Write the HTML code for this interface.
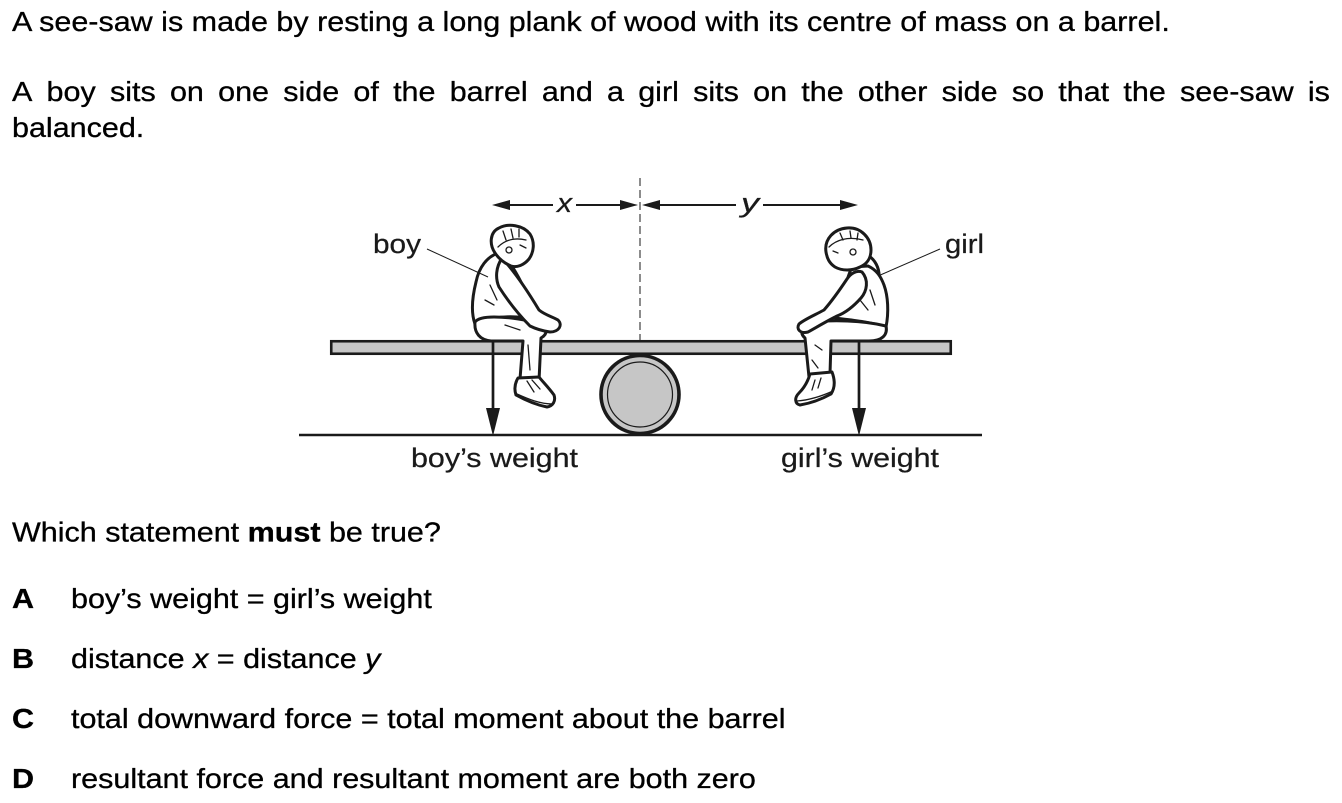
<!DOCTYPE html>
<html>
<head>
<meta charset="utf-8">
<style>
  html, body { margin: 0; padding: 0; background: #fff; }
  svg { display: block; }
</style>
</head>
<body>
<svg width="1342" height="803" viewBox="0 0 1342 803" xmlns="http://www.w3.org/2000/svg">
  <rect width="1342" height="803" fill="#fff"/>

  <!-- Main text -->
  <g font-family="'Liberation Sans', Arial, sans-serif" font-size="28" fill="#000" stroke="#000" stroke-width="0.3" transform="scale(1.09 1)">
    <text x="11.01" y="31">A see-saw is made by resting a long plank of wood with its centre of mass on a barrel.</text>

    <text y="101">
      <tspan x="11.01">A</tspan>
      <tspan x="42.72">boy</tspan>
      <tspan x="100.90">sits</tspan>
      <tspan x="155.94">on</tspan>
      <tspan x="200.11">one</tspan>
      <tspan x="259.85">side</tspan>
      <tspan x="324.24">of</tspan>
      <tspan x="360.62">the</tspan>
      <tspan x="412.58">barrel</tspan>
      <tspan x="497.18">and</tspan>
      <tspan x="556.93">a</tspan>
      <tspan x="585.53">girl</tspan>
      <tspan x="635.89">sits</tspan>
      <tspan x="690.93">on</tspan>
      <tspan x="735.10">the</tspan>
      <tspan x="787.06">other</tspan>
      <tspan x="863.91">side</tspan>
      <tspan x="928.29">so</tspan>
      <tspan x="970.90">that</tspan>
      <tspan x="1030.64">the</tspan>
      <tspan x="1082.60">see-saw</tspan>
      <tspan x="1199.88">is</tspan>
    </text>
    <text x="11.01" y="137">balanced.</text>

    <text x="11.01" y="541.5">Which statement <tspan font-weight="bold">must</tspan> be true?</text>

    <text x="11.01" y="608" font-weight="bold">A</text>
    <text x="65.14" y="608">boy’s weight = girl’s weight</text>

    <text x="11.01" y="668" font-weight="bold">B</text>
    <text x="65.14" y="668">distance <tspan font-style="italic">x</tspan> = distance <tspan font-style="italic">y</tspan></text>

    <text x="11.01" y="728" font-weight="bold">C</text>
    <text x="65.14" y="728">total downward force = total moment about the barrel</text>

    <text x="11.01" y="788" font-weight="bold">D</text>
    <text x="65.14" y="788">resultant force and resultant moment are both zero</text>
  </g>

  <!-- Diagram -->
  <g stroke="#1a1a1a" fill="none">
    <line x1="299" y1="435" x2="982" y2="435" stroke-width="2.4"/>
    <circle cx="640" cy="394.5" r="39" fill="#c6c6c6" stroke-width="3.6"/>
    <circle cx="640" cy="394.5" r="32.5" stroke-width="1.2"/>
    <rect x="331.25" y="341.25" width="619.5" height="12.5" fill="#c6c6c6" stroke-width="2.6"/>
    <line x1="640" y1="178" x2="640" y2="341" stroke-width="1" stroke-dasharray="8 4"/>

    <line x1="505" y1="205" x2="553" y2="205" stroke-width="2"/>
    <line x1="576" y1="205" x2="625" y2="205" stroke-width="2"/>
    <line x1="655" y1="205" x2="736" y2="205" stroke-width="2"/>
    <line x1="763" y1="205" x2="845" y2="205" stroke-width="2"/>
  </g>
  <g fill="#1a1a1a" stroke="none">
    <polygon points="492,205 510,200 510,210"/>
    <polygon points="638,205 620,200 620,210"/>
    <polygon points="642,205 660,200 660,210"/>
    <polygon points="858,205 840,200 840,210"/>
  </g>

  <!-- weight arrows -->
  <g stroke="#1a1a1a" stroke-width="2.7">
    <line x1="493" y1="341" x2="493" y2="412"/>
    <line x1="859" y1="341" x2="859" y2="412"/>
  </g>
  <g fill="#1a1a1a">
    <polygon points="493,436 486,408 500,408"/>
    <polygon points="859,436 852,408 866,408"/>
  </g>

  <!-- Boy -->
  <g fill="#fff" stroke="#1a1a1a" stroke-width="3" stroke-linejoin="round" stroke-linecap="round">
    <path d="M 498 253 C 487 257, 479 267, 476 282 C 472 298, 471 313, 475 324 C 490 318, 507 315, 524 318 L 532 305 C 524 288, 516 270, 506 258 Z"/>
    <path d="M 475 322 C 474 333, 480 340, 491 341 L 523 341 L 520 379 L 539 381 L 541 338 C 548 334, 548 327, 540 324 C 528 320, 510 317, 494 317 C 486 317, 478 318, 475 322 Z"/>
    <path d="M 502 258 C 513 270, 527 290, 539 310 C 545 315, 553 317, 558 320 C 563 325, 559 332, 550 332 C 543 331, 536 329, 530 326 C 519 315, 508 301, 499 287 C 495 278, 496 267, 502 258 Z"/>
    <path d="M 495 253 C 489 244, 490 232, 499 228 C 508 223, 523 225, 530 234 C 535 242, 534 252, 529 259 C 524 265, 517 268, 511 266 C 504 263, 499 259, 495 253 Z"/>
    <path d="M 518 378 L 539 377 C 543 382, 549 388, 554 395 C 556 401, 553 406, 547 407 C 537 405, 525 400, 516 395 C 514 389, 515 383, 518 378 Z"/>
  </g>
  <g fill="none" stroke="#1a1a1a" stroke-width="1.3" stroke-linecap="round">
    <path d="M 498 247 C 504 241, 513 237, 526 240"/>
    <path d="M 503 231 L 506 240 M 511 229 L 513 238 M 519 229 L 519 237"/>
    <circle cx="509" cy="250" r="3"/>
    <path d="M 520 245 L 526 248"/>
    <path d="M 517 394 C 528 399, 540 404, 553 404"/>
    <path d="M 527 381 L 534 392 M 532 380 L 540 389"/>
    <path d="M 490 285 L 497 300 M 485 300 L 494 305"/>
    <path d="M 505 325 L 520 330 M 528 345 L 530 370"/>
  </g>

  <!-- Girl -->
  <g fill="#fff" stroke="#1a1a1a" stroke-width="3" stroke-linejoin="round" stroke-linecap="round">
    <path d="M 866 254 C 875 259, 880 268, 879 279 C 874 277, 870 271, 865 266 Z"/>
    <path d="M 852 267 C 846 280, 844 293, 842 305 L 835 318 C 852 320, 870 322, 886 327 C 889 312, 888 296, 884 285 C 881 277, 877 270, 868 266 Z"/>
    <path d="M 886 326 C 888 335, 882 341, 869 341 L 831 341 L 830 374 L 809 377 L 805 338 C 799 333, 802 325, 811 322 C 832 320, 862 320, 886 326 Z"/>
    <path d="M 862 272 C 869 280, 867 291, 861 298 C 853 307, 845 313, 837 316 C 827 321, 817 327, 808 332 C 800 334, 796 329, 799 324 C 805 319, 815 315, 824 310 C 831 302, 839 291, 847 279 C 851 273, 857 270, 862 272 Z"/>
    <path d="M 826 252 C 824 239, 834 229, 847 228 C 861 227, 871 238, 871 250 C 871 258, 867 264, 860 267 C 852 271, 842 271, 835 267 C 829 263, 827 258, 826 252 Z"/>
    <path d="M 810 374 L 832 372 C 835 380, 835 388, 831 394 C 822 399, 812 403, 800 405 C 795 404, 794 398, 799 393 C 804 388, 808 381, 810 374 Z"/>
  </g>
  <g fill="none" stroke="#1a1a1a" stroke-width="1.3" stroke-linecap="round">
    <path d="M 829 247 C 836 240, 848 236, 863 240"/>
    <path d="M 840 233 L 843 240 M 850 231 L 851 238 M 858 233 L 857 240"/>
    <circle cx="853" cy="252" r="3"/>
    <path d="M 833 251 L 838 253"/>
    <path d="M 797 401 C 810 400, 822 396, 833 391"/>
    <path d="M 815 380 L 812 390 M 821 378 L 818 388"/>
    <path d="M 870 290 L 875 305 M 860 300 L 868 310"/>
    <path d="M 815 345 L 822 350 M 812 360 L 818 368"/>
  </g>

  <!-- leader lines -->
  <g stroke="#1a1a1a" stroke-width="1">
    <line x1="427" y1="249" x2="488" y2="277"/>
    <line x1="940" y1="249" x2="878" y2="276"/>
  </g>

  <!-- Diagram labels -->
  <g font-family="'Liberation Sans', Arial, sans-serif" font-size="27" fill="#1a1a1a" stroke="#1a1a1a" stroke-width="0.25">
    <text x="373" y="253" textLength="48" lengthAdjust="spacingAndGlyphs">boy</text>
    <text x="945" y="253" textLength="39" lengthAdjust="spacingAndGlyphs">girl</text>
    <text x="411" y="467" textLength="167" lengthAdjust="spacingAndGlyphs">boy’s weight</text>
    <text x="781" y="467" textLength="158" lengthAdjust="spacingAndGlyphs">girl’s weight</text>
    <text x="557" y="212" font-style="italic" textLength="15" lengthAdjust="spacingAndGlyphs">x</text>
    <text x="741" y="212" font-style="italic" textLength="18" lengthAdjust="spacingAndGlyphs">y</text>
  </g>
</svg>
</body>
</html>
